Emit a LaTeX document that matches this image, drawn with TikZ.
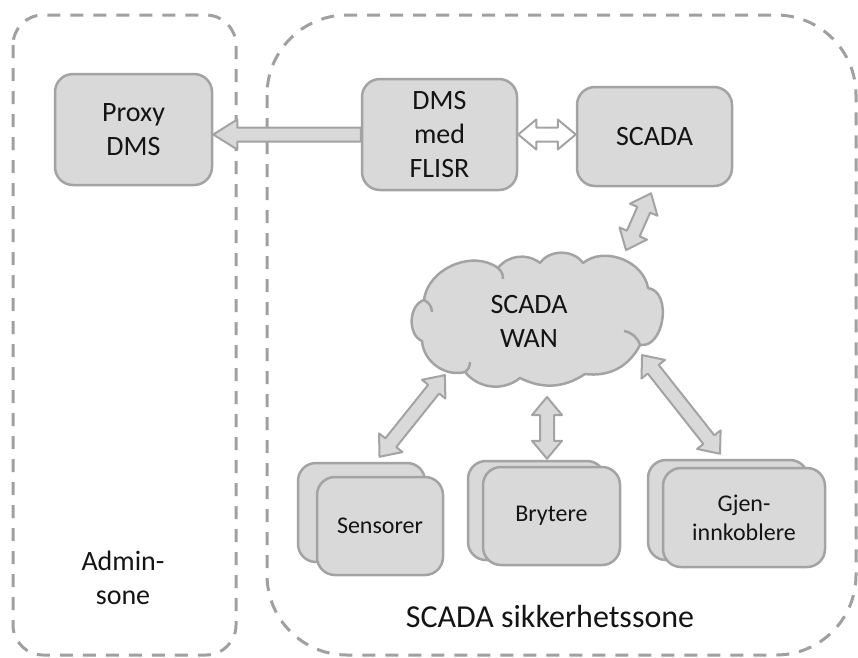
\documentclass[tikz,border=0pt]{standalone}
\usepackage{fontspec}
\setmainfont{Carlito}
\usetikzlibrary{calc}

\definecolor{zoneline}{HTML}{A0A0A0}
\definecolor{boxline}{HTML}{A3A3A3}
\definecolor{boxfill}{HTML}{D9D9D9}
\definecolor{txt}{HTML}{141414}

\newcommand\fntbig{\fontsize{28}{34}\selectfont}
\newcommand\fntsmall{\fontsize{24}{29}\selectfont}
\newcommand\fntzone{\fontsize{32}{38}\selectfont}

% block arrow geometry (pt): shaft half width, head half width, head length
\newcommand\blkw{7}
\newcommand\blkhw{15}
\newcommand\blkhl{18}

% length and direction between two points
\newcommand\blksetup[2]{%
  \path #1 coordinate (blk-s) #2 coordinate (blk-e);%
  \pgfpointdiff{\pgfpointanchor{blk-s}{center}}{\pgfpointanchor{blk-e}{center}}%
  \pgfgetlastxy{\blkdx}{\blkdy}%
  \pgfmathsetmacro\blklen{veclen(\blkdx,\blkdy)}%
  \pgfmathsetmacro\blkang{atan2(\blkdy,\blkdx)}%
  \pgfmathsetmacro\blkb{\blklen-\blkhl}%
}

% block arrow with heads at both ends
\newcommand\doubleblk[3][]{%
  \blksetup{#2}{#3}%
  \draw[blk,#1,shift={(blk-s)},rotate=\blkang]
    (0pt,0pt) -- (\blkhl pt,\blkhw pt) -- (\blkhl pt,\blkw pt) -- (\blkb pt,\blkw pt)
    -- (\blkb pt,\blkhw pt) -- (\blklen pt,0pt) -- (\blkb pt,-\blkhw pt)
    -- (\blkb pt,-\blkw pt) -- (\blkhl pt,-\blkw pt) -- (\blkhl pt,-\blkhw pt) -- cycle;%
}

% block arrow with a head at the second point only
\newcommand\singleblk[3][]{%
  \blksetup{#2}{#3}%
  \draw[blk,#1,shift={(blk-s)},rotate=\blkang]
    (0pt,\blkw pt) -- (\blkb pt,\blkw pt) -- (\blkb pt,\blkhw pt) -- (\blklen pt,0pt)
    -- (\blkb pt,-\blkhw pt) -- (\blkb pt,-\blkw pt) -- (0pt,-\blkw pt) -- cycle;%
}

\begin{document}
\begin{tikzpicture}[x=1pt,y=-1pt,
  zone/.style={draw=zoneline, line width=3, dash pattern=on 13pt off 10pt},
  box/.style={draw=boxline, fill=boxfill, line width=2.5, rounded corners=18,
    align=center, font=\fntbig, text=txt, inner sep=0pt},
  blk/.style={draw=boxline, fill=boxfill, line width=2, line join=round},
  cloudline/.style={draw=boxline, fill=boxfill, line width=2.5, line join=round},
  label/.style={text=txt, align=center}]

\useasboundingbox (0,0) rectangle (858,657);

% security zones
\draw[zone, rounded corners=30] (13,15) rectangle (236,655);
\draw[zone, rounded corners=80] (267,15) rectangle (856,655);
\node[label, font=\fntbig] (adminlbl) at (123,578) {Admin-\\sone};
\node[label, font=\fntzone, anchor=base] (scadalbl) at (550,627) {SCADA sikkerhetssone};

% control systems
\node[box, minimum width=157, minimum height=111] (proxy) at (133.5,129.5) {Proxy\\DMS};
\node[box, minimum width=155, minimum height=111] (dms) at (439.5,134.5) {DMS\\med\\FLISR};
\node[box, minimum width=155, minimum height=99] (scada) at (654.5,136.5) {SCADA};

% communication network
\draw[cloudline] (422,341) to[bend left=70] (424,300) to[bend left=60] (498,268)
  to[bend left=45] (540,263) to[bend left=55] (583,263) to[bend left=60] (648,288)
  to[bend left=90, looseness=1.1] (640,345) to[bend left=35] (585,374)
  to[bend left=30] (520,378) to[bend left=45] (465,372) to[bend left=50] (422,341) -- cycle;
\draw[boxline, line width=2.5] (424,300) to[bend left=30] (432,312);
\draw[boxline, line width=2.5] (498,268) to[bend left=25] (503,279);
\draw[boxline, line width=2.5] (640,345) to[bend right=30] (624,331);
\draw[boxline, line width=2.5] (465,372) to[bend right=25] (470,362);
\node[label, font=\fntbig] (wan) at (529,321) {SCADA\\WAN};

% field devices, drawn as stacks
\node[box, minimum width=127, minimum height=99] (sensB) at (361.5,512.5) {};
\node[box, font=\fntsmall, minimum width=126, minimum height=98] (sens) at (380,526) {Sensorer};
\node[box, minimum width=137, minimum height=99] (brytB) at (536.5,510.5) {};
\node[box, font=\fntsmall, minimum width=137, minimum height=98] (bryt) at (551.5,516) {Brytere};
\node[box, minimum width=160, minimum height=100] (gjenB) at (728,510) {};
\node[box, font=\fntsmall, minimum width=162, minimum height=99] (gjen) at (744,517.5) {Gjen-\\innkoblere};

% data flows
{\renewcommand\blkhl{24}\singleblk{(dms.west)}{(proxy.east |- dms.west)}}
\doubleblk[fill=white]{(dms.east)}{(scada.west |- dms.east)}
\doubleblk{($(wan.center)+(97,-71)$)}{([xshift=-3.5pt,yshift=-6pt]scada.south)}
\doubleblk{([xshift=18pt,yshift=5pt]sensB.north)}{($(wan.center)+(-84,54)$)}
\doubleblk{([xshift=10.5pt,yshift=1pt]brytB.north)}{($(wan.center)+(18,76)$)}
\doubleblk{([xshift=-8pt,yshift=5pt]gjenB.north)}{($(wan.center)+(113,34)$)}

\end{tikzpicture}
\end{document}
